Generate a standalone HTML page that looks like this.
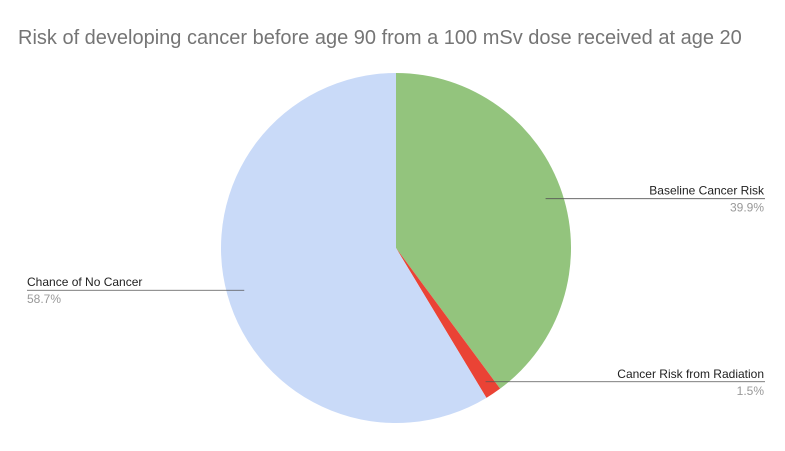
<!DOCTYPE html>
<html><head><meta charset="utf-8"><style>
body{margin:0;background:#fff;}
svg{display:block;font-family:"Liberation Sans",Arial,sans-serif;}
</style></head><body>
<svg width="785" height="451">
<rect width="785" height="451" fill="#fff"/>
<text x="18" y="44" font-size="20" fill="#757575">Risk of developing cancer before age 90 from a 100 mSv dose received at age 20</text>
<g id="slices"></g>
<g id="labels"></g>
</svg>
<script>
const categories=["Baseline Cancer Risk","Cancer Risk from Radiation","Chance of No Cancer"];
const values=[39.9,1.5,58.7];
const valueLabels=["39.9%","1.5%","58.7%"];
const colors=["#93c47d","#ea4335","#c9daf8"];
const cx=396,cy=248,r=175;
const ns="http://www.w3.org/2000/svg";
const total=values.reduce((a,b)=>a+b,0);
const gs=document.getElementById("slices"),gl=document.getElementById("labels");
let a0=0;
values.forEach((v,i)=>{
  const a1=a0+v/total*2*Math.PI;
  const p=(a)=>[cx+r*Math.sin(a),cy-r*Math.cos(a)];
  const [x0,y0]=p(a0),[x1,y1]=p(a1);
  const large=(a1-a0)>Math.PI?1:0;
  const path=document.createElementNS(ns,"path");
  path.setAttribute("d",`M${cx},${cy}L${x0},${y0}A${r},${r} 0 ${large} 1 ${x1},${y1}Z`);
  path.setAttribute("fill",colors[i]);
  
  
  gs.appendChild(path);
  const mid=(a0+a1)/2;
  const rr=i==1?r*0.92:r*0.9;
  const ax=cx+rr*Math.sin(mid),ay=cy-rr*Math.cos(mid);
  const right=Math.sin(mid)>=0;
  const lx=right?765:27;
  const line=document.createElementNS(ns,"line");
  line.setAttribute("x1",ax);line.setAttribute("y1",ay);line.setAttribute("x2",lx);line.setAttribute("y2",ay);
  line.setAttribute("stroke","#555");line.setAttribute("stroke-width","0.8");
  
  
  gl.appendChild(line);
  const t=document.createElementNS(ns,"text");
  t.setAttribute("x",right?764:27);t.setAttribute("y",ay-4);
  t.setAttribute("text-anchor",right?"end":"start");
  t.setAttribute("font-size","12");t.setAttribute("fill","#222");
  t.textContent=categories[i];
  
  
  gl.appendChild(t);
  const t2=document.createElementNS(ns,"text");
  t2.setAttribute("x",right?764:27);t2.setAttribute("y",ay+13);
  t2.setAttribute("text-anchor",right?"end":"start");
  t2.setAttribute("font-size","12");t2.setAttribute("fill","#999");
  t2.textContent=valueLabels[i];
  
  
  gl.appendChild(t2);
  a0=a1;
});
</script>
</body></html>
